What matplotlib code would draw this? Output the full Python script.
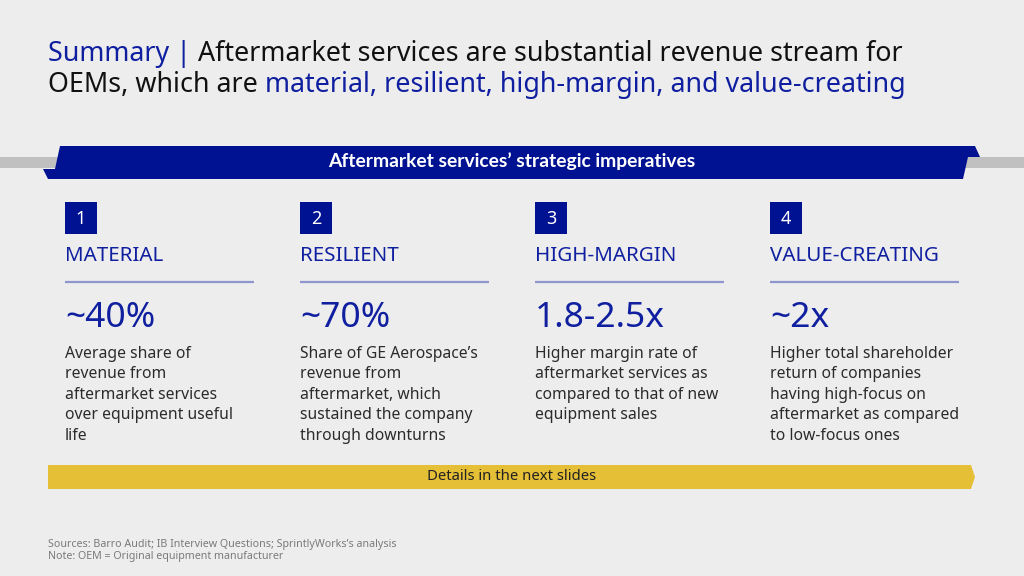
import matplotlib
matplotlib.use("Agg")
import matplotlib.pyplot as plt
from matplotlib.patches import Polygon, Rectangle

plt.rcParams["font.family"] = ["Noto Sans", "DejaVu Sans"]

BG = "#EDEDED"
NAVY = "#001191"
BLUE = "#0F1FA0"
DARK = "#2B2B2B"
LINE = "#8E95CF"
GOLD = "#E5BF36"

# --- content ---
numbers = ["1", "2", "3", "4"]
headings = ["MATERIAL", "RESILIENT", "HIGH-MARGIN", "VALUE-CREATING"]
stats = ["~40%", "~70%", "1.8-2.5x", "~2x"]
descriptions = [
    "Average share of\nrevenue from\naftermarket services\nover equipment useful\nlife",
    "Share of GE Aerospace’s\nrevenue from\naftermarket, which\nsustained the company\nthrough downturns",
    "Higher margin rate of\naftermarket services as\ncompared to that of new\nequipment sales",
    "Higher total shareholder\nreturn of companies\nhaving high-focus on\naftermarket as compared\nto low-focus ones",
]
title_line1 = [("Summary | ", BLUE),
               ("Aftermarket services are substantial revenue stream for", "#111111")]
title_line2 = [("OEMs, which are ", "#111111"),
               ("material, resilient, high-margin, and value-creating", BLUE)]
banner_text = "Aftermarket services’ strategic imperatives"
footer_text = "Details in the next slides"
sources = "Sources: Barro Audit; IB Interview Questions; SprintlyWorks’s analysis"
note = "Note: OEM = Original equipment manufacturer"

fig = plt.figure(figsize=(10.24, 5.76), dpi=100, facecolor=BG)
ax = fig.add_axes([0, 0, 1, 1])
ax.set_xlim(0, 1024)
ax.set_ylim(576, 0)
ax.axis("off")
ax.set_facecolor(BG)

fig.canvas.draw()
renderer = fig.canvas.get_renderer()


def draw_runs(runs, x, y, size):
    # place coloured pieces one after another on the same baseline
    for txt, col in runs:
        t = ax.text(x, y, txt, color=col, fontsize=size, va="baseline", ha="left")
        bb = t.get_window_extent(renderer=renderer)
        x += bb.width * 1024 / fig.bbox.width


draw_runs(title_line1, 48, 61, 19.35)
draw_runs(title_line2, 48, 92, 19.35)

# grey strip behind the banner
ax.add_patch(Rectangle((0, 157), 1024, 11, facecolor="#C0C0C0", edgecolor="none", zorder=1))
banner = [(60, 146), (975, 146), (980, 157), (968, 157), (963, 179),
          (48, 179), (43, 169), (55, 169)]
ax.add_patch(Polygon(banner, closed=True, facecolor=NAVY, edgecolor="none", zorder=2))
ax.text(512, 161.5, banner_text, color="white", fontsize=13.9, fontweight="bold",
        family=["Lato", "DejaVu Sans"], ha="center", va="center", zorder=3)

col_x = [65, 300, 535, 770]
for i, x0 in enumerate(col_x):
    ax.add_patch(Rectangle((x0, 202), 32, 32, facecolor=NAVY, edgecolor="none"))
    ax.text(x0 + 16, 218.5, numbers[i], color="white", fontsize=13,
            ha="center", va="center")
    ax.text(x0, 256, headings[i], color=BLUE, fontsize=14.8,
            ha="left", va="center")
    ax.plot([x0, x0 + 189], [282, 282], color=LINE, lw=1.6, solid_capstyle="butt")
    ax.text(x0, 318, stats[i], color=BLUE, fontsize=25.5,
            ha="left", va="center")
    ax.text(x0, 346, descriptions[i], color=DARK, fontsize=11.3, ha="left",
            va="top", linespacing=1.365)

# gold arrow bar
arrow = [(48, 465), (971, 465), (975, 477), (971, 489), (48, 489)]
ax.add_patch(Polygon(arrow, closed=True, facecolor=GOLD, edgecolor="none"))
ax.text(512, 477, footer_text, color="#222222", fontsize=10.7, ha="center", va="center")

ax.text(48, 544, sources, color="#7A7A7A", fontsize=7.7, ha="left", va="center")
ax.text(48, 557, note, color="#7A7A7A", fontsize=7.7, ha="left", va="center")

fig.savefig("out.png", dpi=100, facecolor=BG)
